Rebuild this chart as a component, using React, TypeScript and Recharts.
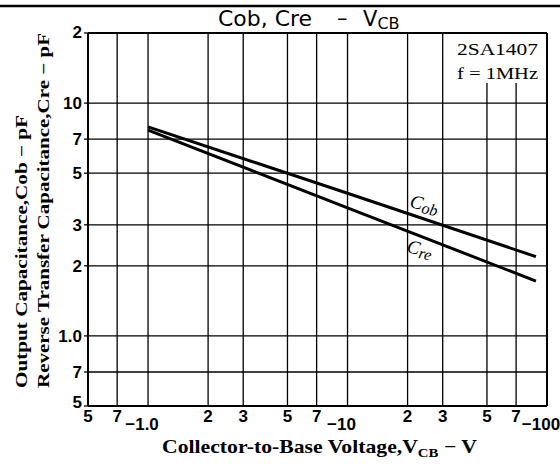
import React from "react";
import { LineChart, Line, XAxis, YAxis, CartesianGrid } from "recharts";

// |VCB| in volts (axis shows them as negative)
const vcb = [1, 10, 88];
const cob = [7.9, 4.1, 2.19];
const cre = [7.65, 3.55, 1.72];

const xTicks = [0.5, 0.7, 1, 2, 3, 5, 7, 10, 20, 30, 50, 70, 100];
const xTickLabels = ["5", "7", "−1.0", "2", "3", "5", "7", "−10", "2", "3", "5", "7", "−100"];
const yTicks = [0.5, 0.7, 1, 2, 3, 5, 7, 10, 20];
const yTickLabels = ["5", "7", "1.0", "2", "3", "5", "7", "10", "2"];

const data = vcb.map((v, i) => ({ v, cob: cob[i], cre: cre[i] }));

const tickFont = "'Liberation Sans', Arial, sans-serif";
const serif = "'Liberation Serif', 'DejaVu Serif', serif";
const titleFont = "'DejaVu Sans', sans-serif";

const XTick = (props: any) => {
  const { x, y, payload } = props;
  const i = xTicks.indexOf(payload.value);
  const label = xTickLabels[i] ?? "";
  const major = label.startsWith("−");
  return (
    <text
      x={major ? x - 6 : x}
      y={major ? y + 16 : y + 8}
      textAnchor="middle"
      fontFamily={tickFont}
      fontWeight="bold"
      fontSize={17}
      fill="#000"
    >
      {label}
    </text>
  );
};

const YTick = (props: any) => {
  const { x, y, payload } = props;
  const i = yTicks.indexOf(payload.value);
  let dy = 6;
  if (payload.value === 0.5) dy = 2;
  if (payload.value === 20) dy = 5;
  return (
    <text
      x={x}
      y={y + dy}
      textAnchor="end"
      fontFamily={tickFont}
      fontWeight="bold"
      fontSize={17}
      fill="#000"
    >
      {yTickLabels[i]}
    </text>
  );
};

export default function App() {
  return (
    <div style={{ position: "relative", width: 560, height: 464, background: "#fff" }}>
      <style>{`body{margin:0}`}</style>
      <LineChart
        width={560}
        height={464}
        data={data}
        margin={{ top: 33, right: 13, bottom: 28, left: 48 }}
      >
        <CartesianGrid stroke="#000" strokeWidth={1.3} />
        <XAxis
          dataKey="v"
          type="number"
          scale="log"
          domain={[0.5, 100]}
          ticks={xTicks}
          allowDataOverflow
          height={30}
          tick={<XTick />}
          tickLine={false}
          axisLine={{ stroke: "#000", strokeWidth: 2 }}
          interval={0}
        />
        <YAxis
          type="number"
          scale="log"
          domain={[0.5, 20]}
          ticks={yTicks}
          allowDataOverflow
          width={40}
          tick={<YTick />}
          tickSize={4}
          tickLine={{ stroke: "#000", strokeWidth: 1.3 }}
          axisLine={{ stroke: "#000", strokeWidth: 2 }}
          interval={0}
        />
        <Line dataKey="cob" stroke="#000" strokeWidth={3} dot={false} isAnimationActive={false} />
        <Line dataKey="cre" stroke="#000" strokeWidth={3} dot={false} isAnimationActive={false} />
      </LineChart>
      <svg
        width={560}
        height={464}
        style={{ position: "absolute", left: 0, top: 0, pointerEvents: "none" }}
      >
        <line x1={0} y1={6} x2={560} y2={6} stroke="#000" strokeWidth={2.5} />
        <line x1={547} y1={33} x2={547} y2={406} stroke="#000" strokeWidth={2} />
        <line x1={88} y1={33} x2={547} y2={33} stroke="#000" strokeWidth={2} />
        {/* title */}
        <text x={218} y={26} fontFamily={titleFont} fontSize={21} fill="#000" textLength={94} lengthAdjust="spacingAndGlyphs">
          Cob, Cre
        </text>
        <text x={337} y={25} fontFamily={titleFont} fontSize={21} fill="#000">
          –
        </text>
        <text x={363} y={26} fontFamily={titleFont} fontSize={21} fill="#000">
          V<tspan fontSize={16} dy={3}>CB</tspan>
        </text>
        <rect x={448} y={34} width={98} height={49} fill="#fff" />
        <text x={457} y={55} fontFamily={serif} fontSize={17} fill="#000" textLength={81} lengthAdjust="spacingAndGlyphs">
          2SA1407
        </text>
        <text x={457} y={79} fontFamily={serif} fontSize={17} fill="#000" textLength={81} lengthAdjust="spacingAndGlyphs">
          f = 1MHz
        </text>
        <g transform="translate(409,207) rotate(13)">
          <text fontFamily={serif} fontStyle="italic" fontSize={19} fill="#000">
            C<tspan fontSize={16} dy={3}>ob</tspan>
          </text>
        </g>
        <g transform="translate(406,252) rotate(13)">
          <text fontFamily={serif} fontStyle="italic" fontSize={19} fill="#000">
            C<tspan fontSize={16} dy={3}>re</tspan>
          </text>
        </g>
        <text
          transform="translate(27,388) rotate(-90)"
          fontFamily={serif}
          fontWeight="bold"
          fontSize={16}
          fill="#000"
          textLength={273}
          lengthAdjust="spacingAndGlyphs"
        >
          Output Capacitance,Cob − pF
        </text>
        <text
          transform="translate(49,388) rotate(-90)"
          fontFamily={serif}
          fontWeight="bold"
          fontSize={16}
          fill="#000"
          textLength={355}
          lengthAdjust="spacingAndGlyphs"
        >
          Reverse Transfer Capacitance,Cre − pF
        </text>
        <text
          x={162}
          y={453}
          fontFamily={serif}
          fontWeight="bold"
          fontSize={19}
          fill="#000"
          textLength={315}
          lengthAdjust="spacingAndGlyphs"
        >
          Collector-to-Base Voltage,V<tspan fontSize={13} dy={4}>CB</tspan>
          <tspan dy={-4}> − V</tspan>
        </text>
      </svg>
    </div>
  );
}
